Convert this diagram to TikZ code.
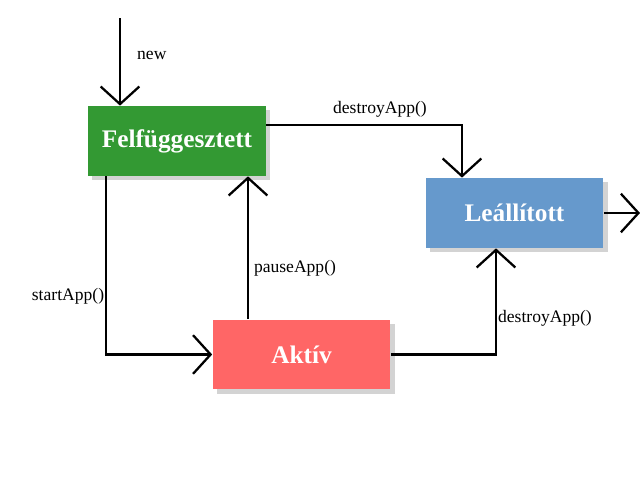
\documentclass[tikz,border=0pt]{standalone}
\usepackage{fontspec}
\setmainfont{Liberation Serif}
\usetikzlibrary{arrows.meta,shadows}
\definecolor{fgreen}{HTML}{339933}
\definecolor{lblue}{HTML}{6699CC}
\definecolor{ared}{HTML}{FF6666}
\tikzset{
    state/.style={minimum width=3.56cm, minimum height=1.4cm, draw=none,
        font=\Large\bfseries, text=white, drop shadow={opacity=0.35}},
    trans/.style={line width=1.3pt, -{Straight Barb[length=10pt,width=22pt,line width=1.3pt]}},
    lbl/.style={font=\normalsize}
}
\begin{document}
\begin{tikzpicture}[x=0.02cm, y=-0.02cm]
    \useasboundingbox (0,0) rectangle (640,480);
    % States
    \node[state, fill=fgreen] (susp) at (177,141) {Felfüggesztett};
    \node[state, fill=lblue] (dest) at (514.5,213) {Leállított};
    \node[state, fill=ared] (act) at (301.5,354.5) {Aktív};
    \coordinate (start) at (120,18);
    \coordinate (out) at (640,213);

    % Transitions
    \draw[trans] (start) -- (start |- susp.north);
    \draw[trans] (susp.east |- 0,125) -| (462,0 |- dest.north);
    \draw[trans] (106,0 |- susp.south) |- (act.west);
    \draw[trans] (248,0 |- act.north) -- (248,0 |- susp.south);
    \draw[trans] (act.east) -| (496,0 |- dest.south);
    \draw[trans] (dest.east) -- (out);

    % Labels
    \node[lbl, anchor=west] at (131,55) {new};
    \node[lbl] at (380,109) {destroyApp()};
    \node[lbl] at (68,296) {startApp()};
    \node[lbl] at (295,268) {pauseApp()};
    \node[lbl] at (545,318) {destroyApp()};
\end{tikzpicture}
\end{document}
